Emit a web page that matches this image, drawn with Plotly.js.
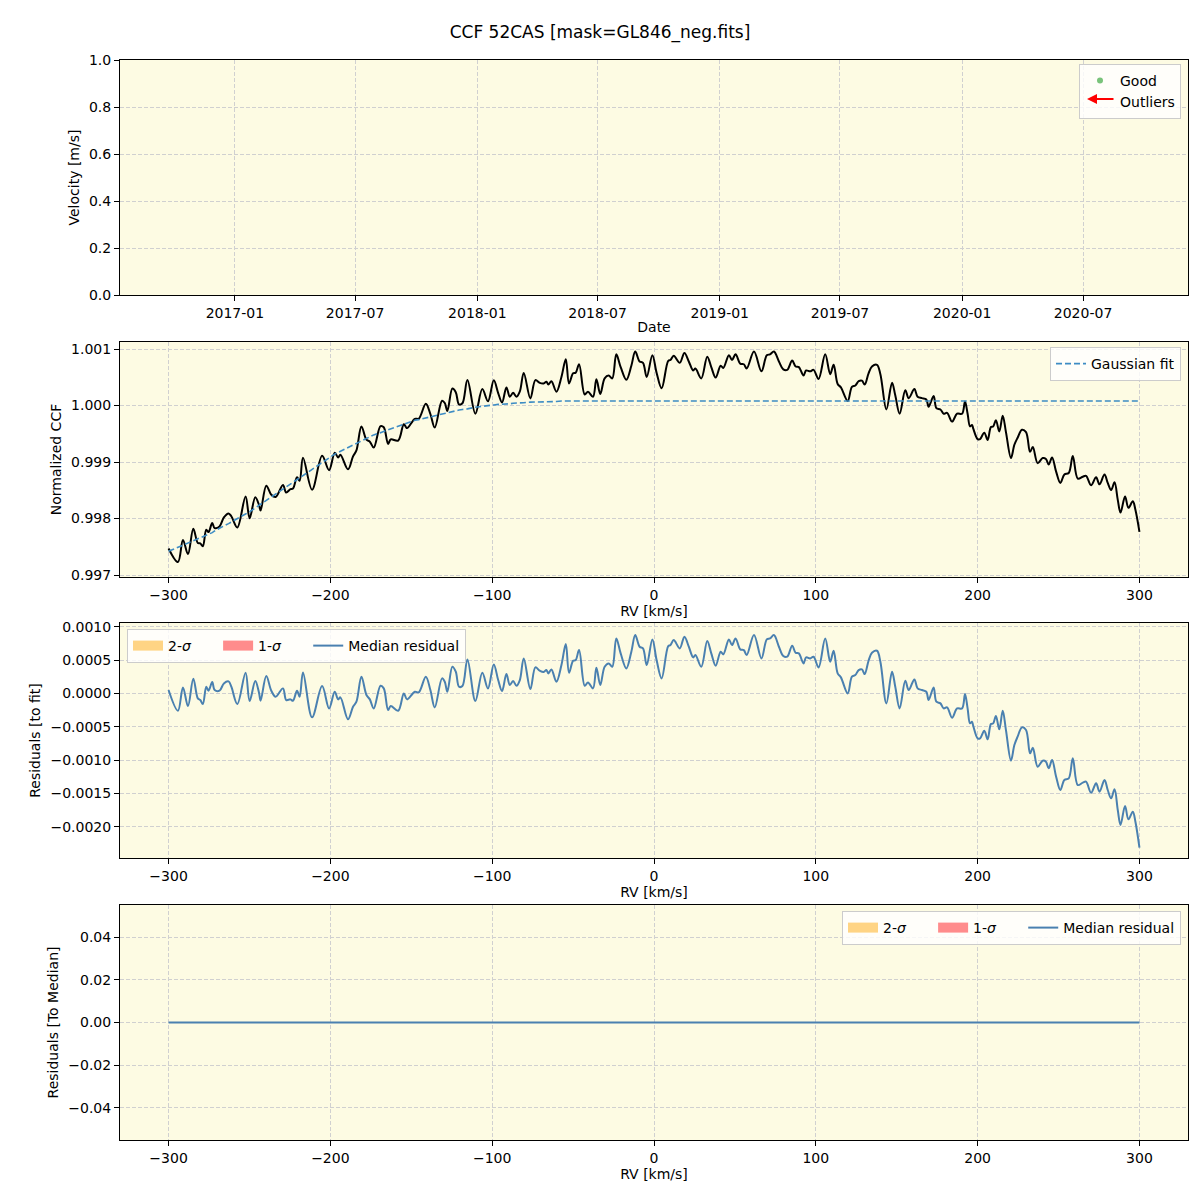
<!DOCTYPE html>
<html><head><meta charset="utf-8">
<script src="https://cdn.plot.ly/plotly-3.0.1.min.js"></script>
<style>body{margin:0;background:#fff}#chart{width:1200px;height:1200px}</style>
</head><body><div id="chart"></div>
<script>
// ---- data ----
const rv = [
-300,-294.2,-291.1,-288.0,-284.7,-281.9,-280.4,-278.8,-276.7,-275.3,-273.0,-271.5,-268.5,-265.8,-262.9,-261.2,-257.5,-252.4,-249.9,-246.4,-244.1,-243.1,-239.6,-236.5,-233.8,-229.3,-227.3,-224.7,-223.1,-220.6,-219.0,-216.9,-211.3,-205.1,
-200.8,-197.3,-195.2,-193.8,-189.1,-186.0,-183.9,-180.8,-177.7,-175.6,-173.2,-169.0,-167.0,-164.3,-162.7,-158.1,-154.6,-152.6,-147.8,-145.4,-141.0,-138.2,-135.5,-131.0,-129.3,-127.7,-124.6,-122.5,-120.5,-118.4,-115.3,-110.4,-106.1,-102.6,
-99.0,-96.3,-93.9,-91.2,-89.1,-87.1,-85.0,-82.9,-80.5,-76.4,-73.3,-70.6,-68.2,-66.5,-65.3,-63.4,-60.3,-57.2,
-54.5,-52.5,-50.0,-48.4,-46.3,-42.8,-40.8,-37.7,-35.6,-33.2,-30.5,-28.0,-25.8,-23.3,-20.6,-17.1,-14.0,-11.6,-8.9,-6.8,-4.5,
-1.0,1.6,4.7,8.8,10.2,12.2,15.9,18.8,21.5,24.2,25.6,29.2,32.9,35.4,38.1,41.2,42.8,46.3,48.2,50.4,53.3,55.5,57.3,61.8,66.4,69.7,71.7,74.1,77.2,79.9,82.3,85.4,87.5,89.5,
92.4,94.0,96.5,98.6,101.7,105.8,108.9,111.0,113.5,115.5,119.7,122.3,124.4,126.5,128.5,130.2,132.6,134.7,137.8,139.9,143.6,147.1,149.1,151.8,155.3,157.4,160.9,162.9,165.6,168.3,169.7,172.8,174.5,177.0,179.0,181.1,184.2,187.3,190.4,
192.2,193.8,195.3,196.5,197.3,200.0,201.5,204.1,206.2,208.2,209.6,211.3,213.4,215.5,217.5,220.6,222.7,224.7,227.4,229.9,232.4,234.1,237.1,240.2,242.2,243.9,246.0,248.5,251.1,253.6,256.3,258.8,261.9,265.0,267.0,270.1,273.2,275.3,278.4,280.4,282.5,284.6,286.6,288.3,291.1,293.2,295.9,297.5,300];

const residToFit = [
0.00005,-0.00026,0.00009,-0.00019,0.00022,-0.000075,-0.0001,-0.00016,0.0001,0.00004,0.00017,0.00005,0.00004,0.00015,0.00018,0.0001,-0.00016,0.00031,-0.000115,0.000185,0.00001,-0.00011,0.00026,0.00004,-0.00005,0.000075,-0.0001,-0.00009,-0.00011,0.00004,-0.00005,0.000315,-0.00036,0.00011,
-0.000225,0.000025,-0.00009,-0.00006,-0.00039,-0.0002,-0.000125,0.00025,-0.000025,-0.00009,-0.000225,0.000115,0.000075,-0.00025,-0.00019,-0.00026,0,-0.00009,0.000025,0.000015,0.00025,0.00005,-0.00021,0.000225,0.000175,0.000025,0.0004,0.000325,0.0001,0.00011,0.00051,-0.000115,0.00031,0.000075,
0.000435,0.0002,0.000035,0.00029,0.000125,0.000185,0.000115,0.0002,0.000525,0.000065,0.00039,0.00034,0.00032,0.00035,0.0003,0.00036,0.000175,0.000425,
0.00074,0.00031,0.00049,0.0005,0.00065,0.000115,0.000165,0.000075,0.000385,0.000125,0.0004,0.00045,0.0004,0.000825,0.0006,0.000375,0.000625,0.000875,0.0007,0.000675,0.000425,
0.00081,0.0005,0.000225,0.00071,0.000725,0.0008,0.000675,0.00085,0.0007,0.00054,0.000575,0.0004,0.000785,0.0006,0.000415,0.000625,0.000585,0.00081,0.000725,0.000825,0.00066,0.00065,0.000575,0.000875,0.000525,0.00081,0.000825,0.000875,0.0007,0.00056,0.00055,0.000715,0.00061,0.0006,
0.00045,0.00054,0.000525,0.00055,0.00039,0.000825,0.000475,0.00064,0.0003,0.00024,0,0.00025,0.000275,0.00035,0.00036,0.00029,0.00049,0.00061,0.00064,0.000475,-0.00015,0.000325,0.0001,-0.000225,0.00019,0.00005,0.00021,0.000075,0.00005,0.000025,-0.0001,0.00009,-0.000125,-0.00015,-0.000225,-0.00021,-0.000365,-0.000225,-0.000225,
-0.00001,-0.000225,-0.00045,-0.000425,-0.00049,-0.000675,-0.000675,-0.00056,-0.00069,-0.00046,-0.00045,-0.00034,-0.00054,-0.00026,-0.00055,-0.00101,-0.000775,-0.00065,-0.00051,-0.00055,-0.0009,-0.000815,-0.0011,-0.00101,-0.001025,-0.001125,-0.001,-0.00125,-0.00145,-0.0013,-0.001275,-0.000975,-0.001375,-0.00134,-0.001325,-0.00149,-0.00135,-0.001475,-0.0013,-0.00145,-0.001575,-0.00144,-0.00175,-0.001975,-0.00169,-0.00189,-0.001775,-0.001925,-0.002315];

// Gaussian fit read at the first rv points (rising wing); flat plateau afterwards
const fitHead = [
0.99742,0.99749,0.99753,0.99756,0.99760,0.99764,0.99766,0.99767,0.99770,0.99772,0.99775,0.99778,0.99782,0.99787,0.99791,0.99794,0.99800,0.99808,0.99812,0.99819,0.99823,0.99825,0.99832,0.99838,0.99843,0.99852,0.99856,0.99861,0.99864,0.99869,0.99872,0.99876,0.99887,0.99900,
0.99908,0.99914,0.99917,0.99919,0.99926,0.99930,0.99933,0.99938,0.99942,0.99945,0.99948,0.99952,0.99954,0.99957,0.99959,0.99964,0.99967,0.99969,0.99974,0.99975,0.99978,0.99980,0.99982,0.99986,0.99987,0.99988,0.99990,0.99991,0.99992,0.99993,0.99994,0.99997,0.99998,1.00000,
1.00001,1.00002,1.00002,1.00003,1.00003,1.00004,1.00004,1.00005,1.00005,1.00006,1.00006,1.00006,1.00007,1.00007,1.00007,1.00007,1.00007,1.00008];
const fitPlateau = 1.00008;

const medRv = [-300, 300];
const residToMedian = [0, 0];

const dateTicks = ['2017-01-01','2017-07-01','2018-01-01','2018-07-01','2019-01-01','2019-07-01','2020-01-01','2020-07-01'];
const dateTickText = ['2017-01','2017-07','2018-01','2018-07','2019-01','2019-07','2020-01','2020-07'];
const rvTicks = [-300,-200,-100,0,100,200,300];

// ---- build ----
const fit = rv.map((r,i)=> i < fitHead.length ? fitHead[i] : fitPlateau);
const ccf = rv.map((r,i)=> fit[i] + residToFit[i]);

const FONT = 'DejaVu Sans';
const BG = 'rgb(253,251,227)';
const blue = '#4a80b0';
const FS = 14;
const PAD = '&nbsp;&nbsp;&nbsp;&nbsp;&nbsp;';

function axis(extra){
  return Object.assign({
    showline:true, mirror:true, linecolor:'#000', linewidth:1,
    ticks:'outside', ticklen:5, tickwidth:1, tickcolor:'#000',
    showgrid:true, gridcolor:'#d0d0d0', griddash:'4px,2px', gridwidth:1,
    zeroline:false, tickfont:{family:FONT,size:FS,color:'#000'},
    automargin:false
  }, extra);
}
function ttl(t, standoff){ return {text:t, font:{family:FONT,size:FS,color:'#000'}, standoff:standoff}; }

const sw2 = 'rgba(255,204,110,0.85)';
const sw1 = 'rgba(255,120,120,0.85)';

const traces = [
  // panel 1 (empty, legend only)
  {type:'scatter', mode:'markers', x:[null], y:[null], xaxis:'x', yaxis:'y', name:'Good',
   marker:{color:'rgba(76,175,80,0.75)', size:6}, legend:'legend'},
  {type:'scatter', mode:'lines', x:[null], y:[null], xaxis:'x', yaxis:'y', name:'Outliers',
   line:{color:'rgba(0,0,0,0)', width:2}, legend:'legend'},
  // panel 2
  {type:'scatter', mode:'lines', x:rv, y:ccf, xaxis:'x2', yaxis:'y2', showlegend:false,
   line:{color:'#000', width:2, shape:'spline', smoothing:1}},
  {type:'scatter', mode:'lines', x:rv, y:fit, xaxis:'x2', yaxis:'y2', name:'Gaussian fit',
   line:{color:'#3d8cc4', width:1.6, dash:'6px,3px'}, legend:'legend2'},
  // panel 3
  {type:'scatter', mode:'lines', x:[null], y:[null], xaxis:'x3', yaxis:'y3', name:'2-<i>σ</i>'+PAD,
   line:{color:sw2,width:10}, legend:'legend3'},
  {type:'scatter', mode:'lines', x:[null], y:[null], xaxis:'x3', yaxis:'y3', name:'1-<i>σ</i>'+PAD,
   line:{color:sw1,width:10}, legend:'legend3'},
  {type:'scatter', mode:'lines', x:rv, y:residToFit, xaxis:'x3', yaxis:'y3', name:'Median residual',
   line:{color:blue, width:2, shape:'spline', smoothing:1}, legend:'legend3'},
  // panel 4
  {type:'scatter', mode:'lines', x:[null], y:[null], xaxis:'x4', yaxis:'y4', name:'2-<i>σ</i>'+PAD,
   line:{color:sw2,width:10}, legend:'legend4'},
  {type:'scatter', mode:'lines', x:[null], y:[null], xaxis:'x4', yaxis:'y4', name:'1-<i>σ</i>'+PAD,
   line:{color:sw1,width:10}, legend:'legend4'},
  {type:'scatter', mode:'lines', x:medRv, y:residToMedian, xaxis:'x4', yaxis:'y4', name:'Median residual',
   line:{color:blue, width:2}, legend:'legend4'}
];

const W = 1200;
const dx = [120/W, 1188/W];
const dom = (top,bot)=>[1-bot/W, 1-top/W];
const legBase = {bgcolor:'rgba(255,255,255,0.8)', bordercolor:'#cccccc', borderwidth:1,
  font:{family:FONT,size:FS,color:'#000'}};

const layout = {
  width:1200, height:1200, margin:{l:0,r:0,t:0,b:0},
  paper_bgcolor:'#fff', plot_bgcolor:BG,
  font:{family:FONT, size:FS, color:'#000'},
  title:{text:'CCF 52CAS [mask=GL846_neg.fits]', x:0.5, xanchor:'center', y:1-32/W, yanchor:'middle',
         font:{family:FONT,size:17,color:'#000'}},
  xaxis: axis({domain:dx, anchor:'y', type:'date', range:['2016-07-12','2020-12-06'],
          tickmode:'array', tickvals:dateTicks, ticktext:dateTickText, title:ttl('Date',2)}),
  yaxis: axis({domain:dom(60,295), anchor:'x', range:[0,1], tickmode:'array',
          tickvals:[0,0.2,0.4,0.6,0.8,1.0], ticktext:['0.0','0.2','0.4','0.6','0.8','1.0'], title:ttl('Velocity [m/s]',6)}),
  xaxis2: axis({domain:dx, anchor:'y2', range:[-330,330], tickmode:'array', tickvals:rvTicks, title:ttl('RV [km/s]',2)}),
  yaxis2: axis({domain:dom(342,577), anchor:'x2', range:[0.996965,1.001124], tickmode:'array',
          tickvals:[0.997,0.998,0.999,1.000,1.001], tickformat:'.3f', title:ttl('Normalized CCF',6)}),
  xaxis3: axis({domain:dx, anchor:'y3', range:[-330,330], tickmode:'array', tickvals:rvTicks, title:ttl('RV [km/s]',2)}),
  yaxis3: axis({domain:dom(623,858), anchor:'x3', range:[-0.00247,0.001056], tickmode:'array',
          tickvals:[-0.002,-0.0015,-0.001,-0.0005,0,0.0005,0.001], tickformat:'.4f', title:ttl('Residuals [to fit]',6)}),
  xaxis4: axis({domain:dx, anchor:'y4', range:[-330,330], tickmode:'array', tickvals:rvTicks, title:ttl('RV [km/s]',2)}),
  yaxis4: axis({domain:dom(905,1140), anchor:'x4', range:[-0.055,0.055], tickmode:'array',
          tickvals:[-0.04,-0.02,0,0.02,0.04], tickformat:'.2f', title:ttl('Residuals [To Median]',6)}),
  legend: Object.assign({}, legBase, {x:1181/W, xanchor:'right', y:1-64/W, yanchor:'top', orientation:'v', tracegroupgap:0}),
  legend2: Object.assign({}, legBase, {x:1181/W, xanchor:'right', y:1-347/W, yanchor:'top', orientation:'v'}),
  legend3: Object.assign({}, legBase, {x:127/W, xanchor:'left', y:1-629/W, yanchor:'top', orientation:'h'}),
  legend4: Object.assign({}, legBase, {x:1181/W, xanchor:'right', y:1-911/W, yanchor:'top', orientation:'h'}),
  annotations:[
    {xref:'paper', yref:'paper', x:1087/W, y:1-99/W, ax:28, ay:0, text:'', showarrow:true,
     arrowhead:2, arrowsize:1, arrowwidth:2, arrowcolor:'#ff0000'}
  ]
};

Plotly.newPlot('chart', traces, layout, {displayModeBar:false, staticPlot:true});
</script>
</body></html>
